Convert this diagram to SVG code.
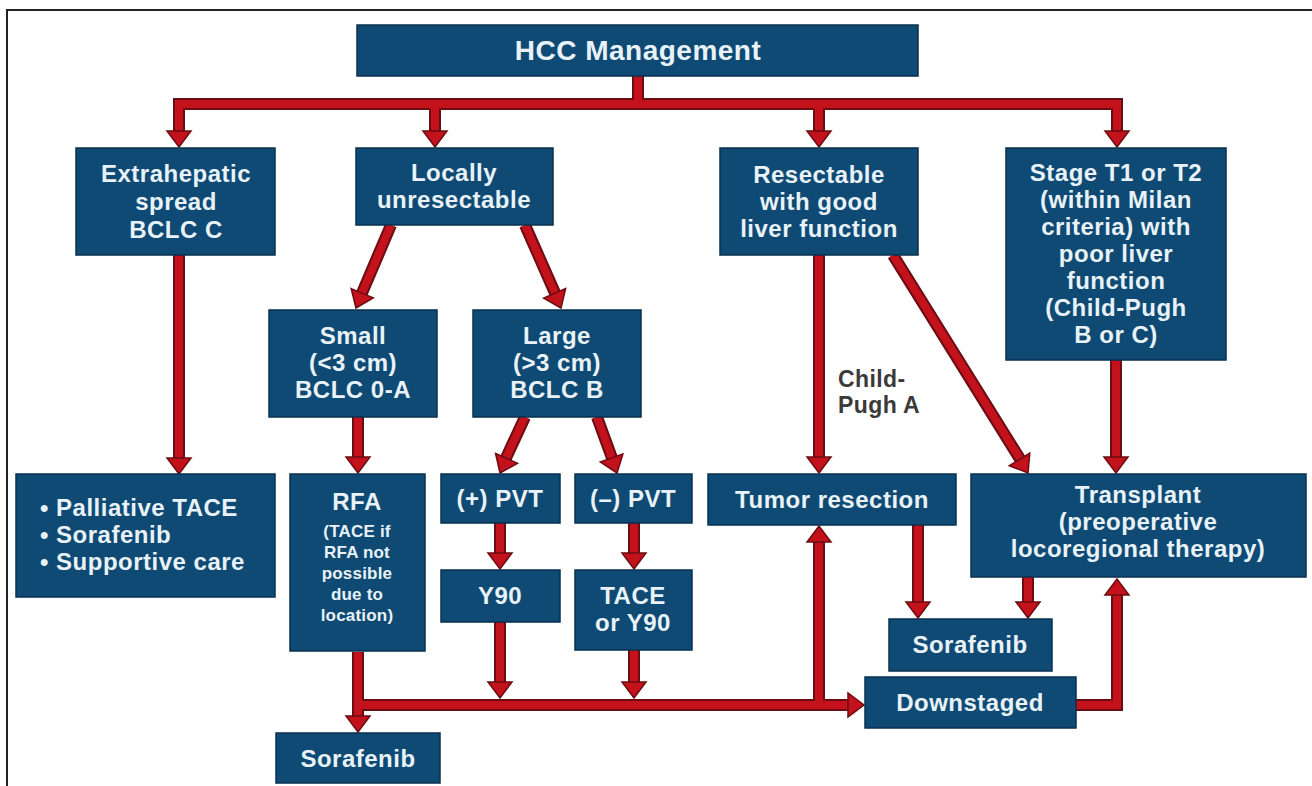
<svg xmlns="http://www.w3.org/2000/svg" xmlns:xlink="http://www.w3.org/1999/xlink" width="1312" height="786" viewBox="0 0 1312 786">
<style>
.box{fill:#0e4a73;stroke:#08314f;stroke-width:1.5}
.t{font-family:"Liberation Sans",Arial,sans-serif;font-weight:bold;fill:#e8f2f8;text-anchor:middle;font-size:24px;letter-spacing:0.5px}
.tl{text-anchor:start}
.big{font-size:28px}
.sm{font-size:17px;letter-spacing:0.2px}
.lab{font-family:"Liberation Sans",Arial,sans-serif;font-weight:bold;fill:#3a3a3a;font-size:23px;letter-spacing:0.4px}
.ol{fill:none;stroke:#6a0c12;stroke-width:12}
.ln{fill:none;stroke:#c4121c;stroke-width:8}
.ah{fill:#c4121c;stroke:#6a0c12;stroke-width:1.5;stroke-linejoin:miter}
</style>
<defs>
<path id="ah" d="M-12,-16 L12,-16 L0,0 Z"/>
</defs>
<rect width="1312" height="786" fill="#ffffff"/>
<path d="M7,786 V10 H1312" fill="none" stroke="#222" stroke-width="2"/>

<g id="connectors">
<path class="ol" d="M638,76 V104 M179,132 V104 H1117 V132 M435,104 V132 M819,104 V132 M179,255 V459 M391,225 L362,293 M525,225 L555,293 M358,417 V458 M525,417 L506,458 M597,417 L612,458 M819,255 V458 M893,255 L1020,459 M1116,360 V458 M500,523 V554 M634,523 V554 M918,525 V603 M1028,577 V603 M358,652 V717 M358,705 H849 M500,622 V683 M634,650 V683 M819,705 V542 M1076,705 H1117 V595"/>
<path class="ln" d="M638,76 V104 M179,132 V104 H1117 V132 M435,104 V132 M819,104 V132 M179,255 V459 M391,225 L362,293 M525,225 L555,293 M358,417 V458 M525,417 L506,458 M597,417 L612,458 M819,255 V458 M893,255 L1020,459 M1116,360 V458 M500,523 V554 M634,523 V554 M918,525 V603 M1028,577 V603 M358,652 V717 M358,705 H849 M500,622 V683 M634,650 V683 M819,705 V542 M1076,705 H1117 V595"/>
<use xlink:href="#ah" class="ah" transform="translate(179,147)"/>
<use xlink:href="#ah" class="ah" transform="translate(435,147)"/>
<use xlink:href="#ah" class="ah" transform="translate(819,147)"/>
<use xlink:href="#ah" class="ah" transform="translate(1117,147)"/>
<use xlink:href="#ah" class="ah" transform="translate(179,474)"/>
<use xlink:href="#ah" class="ah" transform="translate(356,308) rotate(22.9)"/>
<use xlink:href="#ah" class="ah" transform="translate(561,308) rotate(-23.5)"/>
<use xlink:href="#ah" class="ah" transform="translate(358,473)"/>
<use xlink:href="#ah" class="ah" transform="translate(500,473) rotate(24.1)"/>
<use xlink:href="#ah" class="ah" transform="translate(617,473) rotate(-19.7)"/>
<use xlink:href="#ah" class="ah" transform="translate(819,473)"/>
<use xlink:href="#ah" class="ah" transform="translate(1028,473) rotate(-31.8)"/>
<use xlink:href="#ah" class="ah" transform="translate(1116,473)"/>
<use xlink:href="#ah" class="ah" transform="translate(500,569)"/>
<use xlink:href="#ah" class="ah" transform="translate(634,569)"/>
<use xlink:href="#ah" class="ah" transform="translate(918,618)"/>
<use xlink:href="#ah" class="ah" transform="translate(1028,618)"/>
<use xlink:href="#ah" class="ah" transform="translate(358,732)"/>
<use xlink:href="#ah" class="ah" transform="translate(864,705) rotate(-90)"/>
<use xlink:href="#ah" class="ah" transform="translate(500,698)"/>
<use xlink:href="#ah" class="ah" transform="translate(634,698)"/>
<use xlink:href="#ah" class="ah" transform="translate(819,526) rotate(180)"/>
<use xlink:href="#ah" class="ah" transform="translate(1117,579) rotate(180)"/>
</g>

<g id="hcc"><rect class="box" x="357" y="25" width="561" height="51"/><text class="t big" x="638" y="60">HCC Management</text></g>

<g id="extrahepatic"><rect class="box" x="76" y="148" width="199" height="107"/>
<text class="t" x="176" y="182">Extrahepatic</text><text class="t" x="176" y="210">spread</text><text class="t" x="176" y="238">BCLC C</text></g>

<g id="locally"><rect class="box" x="356" y="148" width="197" height="77"/>
<text class="t" x="454" y="181">Locally</text><text class="t" x="454" y="208">unresectable</text></g>

<g id="resectable"><rect class="box" x="720" y="148" width="198" height="107"/>
<text class="t" x="819" y="183">Resectable</text><text class="t" x="819" y="210">with good</text><text class="t" x="819" y="237">liver function</text></g>

<g id="stage"><rect class="box" x="1006" y="148" width="220" height="212"/>
<text class="t" x="1116" y="181">Stage T1 or T2</text><text class="t" x="1116" y="208">(within Milan</text><text class="t" x="1116" y="235">criteria) with</text><text class="t" x="1116" y="262">poor liver</text><text class="t" x="1116" y="289">function</text><text class="t" x="1116" y="316">(Child-Pugh</text><text class="t" x="1116" y="343">B or C)</text></g>

<g id="small"><rect class="box" x="269" y="310" width="168" height="107"/>
<text class="t" x="353" y="344">Small</text><text class="t" x="353" y="371">(&lt;3 cm)</text><text class="t" x="353" y="398">BCLC 0-A</text></g>

<g id="large"><rect class="box" x="473" y="310" width="168" height="107"/>
<text class="t" x="557" y="344">Large</text><text class="t" x="557" y="371">(&gt;3 cm)</text><text class="t" x="557" y="398">BCLC B</text></g>

<g id="palliative"><rect class="box" x="16" y="474" width="259" height="123"/>
<text class="t tl" x="40" y="516">• Palliative TACE</text><text class="t tl" x="40" y="543">• Sorafenib</text><text class="t tl" x="40" y="570">• Supportive care</text></g>

<g id="rfa"><rect class="box" x="290" y="474" width="135" height="177"/>
<text class="t" x="357" y="510">RFA</text>
<text class="t sm" x="357" y="537">(TACE if</text><text class="t sm" x="357" y="558">RFA not</text><text class="t sm" x="357" y="579">possible</text><text class="t sm" x="357" y="600">due to</text><text class="t sm" x="357" y="621">location)</text></g>

<g id="pvtpos"><rect class="box" x="441" y="474" width="119" height="49"/><text class="t" x="500" y="507">(+) PVT</text></g>
<g id="pvtneg"><rect class="box" x="575" y="474" width="117" height="49"/><text class="t" x="633" y="507">(–) PVT</text></g>

<g id="tumor"><rect class="box" x="708" y="474" width="248" height="51"/><text class="t" x="832" y="508">Tumor resection</text></g>

<g id="transplant"><rect class="box" x="971" y="474" width="335" height="103"/>
<text class="t" x="1138" y="503">Transplant</text><text class="t" x="1138" y="530">(preoperative</text><text class="t" x="1138" y="557">locoregional therapy)</text></g>

<g id="y90"><rect class="box" x="441" y="570" width="119" height="52"/><text class="t" x="500" y="604">Y90</text></g>
<g id="tace"><rect class="box" x="575" y="570" width="117" height="80"/><text class="t" x="633" y="604">TACE</text><text class="t" x="633" y="631">or Y90</text></g>

<g id="sorafenib-r"><rect class="box" x="889" y="619" width="163" height="52"/><text class="t" x="970" y="653">Sorafenib</text></g>
<g id="downstaged"><rect class="box" x="865" y="677" width="211" height="51"/><text class="t" x="970" y="711">Downstaged</text></g>
<g id="sorafenib-l"><rect class="box" x="276" y="733" width="164" height="50"/><text class="t" x="358" y="767">Sorafenib</text></g>

<g id="label-childpugh"><text class="lab" x="838" y="387">Child-</text><text class="lab" x="838" y="413">Pugh A</text></g>
</svg>
